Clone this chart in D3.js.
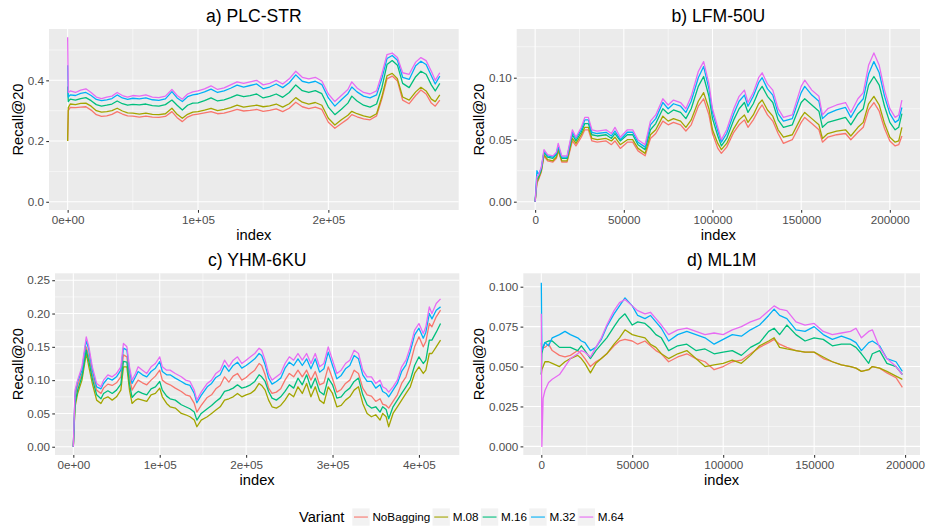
<!DOCTYPE html>
<html><head><meta charset="utf-8">
<script src="https://cdn.jsdelivr.net/npm/d3@7"></script>
<style>body{margin:0;background:#fff}svg{display:block}text{font-family:"Liberation Sans",Arial,Helvetica,sans-serif}</style>
</head><body>
<script>
// ---------------- DATA ----------------
const variants = ["NoBagging","M.08","M.16","M.32","M.64"];
const colors = ["#F8766D","#A3A500","#00BF7D","#00B0F6","#E76BF3"];
const panelTitles = ["a) PLC-STR","b) LFM-50U","c) YHM-6KU","d) ML1M"];

// a) PLC-STR
const idxA = [0,500,2000,6000,10000,14000,18000,22000,26000,30000,34000,38000,42000,46000,50000,55000,60000,65000,70000,75000,80000,84000,88000,92000,96000,100000,105000,110000,115000,120000,125000,130000,135000,140000,145000,150000,155000,160000,165000,170000,175000,180000,185000,190000,195000,200000,205000,210000,215000,218000,222000,227000,232000,237000,241000,245000,249000,253000,257000,262000,267000,271000,275000,279000,282000,285500];
const a_NoBagging = [0.2,0.3,0.311,0.31,0.312,0.313,0.302,0.287,0.281,0.283,0.288,0.297,0.289,0.283,0.282,0.279,0.282,0.279,0.278,0.281,0.297,0.277,0.264,0.279,0.286,0.289,0.293,0.297,0.29,0.292,0.298,0.304,0.299,0.301,0.304,0.298,0.301,0.306,0.297,0.308,0.328,0.313,0.307,0.312,0.304,0.262,0.242,0.258,0.273,0.287,0.28,0.273,0.27,0.283,0.338,0.405,0.414,0.398,0.335,0.323,0.35,0.368,0.355,0.325,0.315,0.335];
const a_M08 = [0.2,0.31,0.322,0.32,0.324,0.325,0.315,0.3,0.295,0.297,0.3,0.308,0.299,0.293,0.292,0.289,0.292,0.288,0.287,0.29,0.308,0.288,0.275,0.288,0.295,0.297,0.302,0.308,0.3,0.304,0.31,0.318,0.312,0.315,0.318,0.313,0.316,0.322,0.312,0.323,0.343,0.328,0.322,0.327,0.318,0.275,0.253,0.27,0.285,0.298,0.29,0.283,0.278,0.29,0.345,0.415,0.423,0.405,0.345,0.335,0.362,0.377,0.365,0.338,0.33,0.352];
const a_M16 = [0.38,0.33,0.338,0.335,0.34,0.343,0.333,0.32,0.315,0.318,0.322,0.332,0.323,0.318,0.321,0.319,0.322,0.317,0.315,0.32,0.335,0.318,0.302,0.318,0.325,0.326,0.333,0.342,0.332,0.336,0.343,0.352,0.346,0.35,0.355,0.342,0.347,0.355,0.344,0.36,0.385,0.366,0.36,0.366,0.356,0.312,0.287,0.305,0.325,0.348,0.332,0.318,0.312,0.322,0.375,0.452,0.465,0.45,0.39,0.376,0.412,0.43,0.42,0.385,0.365,0.39];
const a_M32 = [0.45,0.345,0.352,0.35,0.357,0.36,0.35,0.337,0.333,0.336,0.34,0.352,0.342,0.337,0.341,0.339,0.342,0.336,0.334,0.339,0.363,0.342,0.33,0.346,0.352,0.355,0.362,0.371,0.36,0.365,0.374,0.384,0.378,0.383,0.388,0.372,0.378,0.388,0.376,0.392,0.418,0.397,0.392,0.397,0.386,0.342,0.315,0.336,0.356,0.378,0.362,0.348,0.342,0.352,0.405,0.472,0.482,0.466,0.41,0.403,0.448,0.463,0.452,0.415,0.388,0.414];
const a_M64 = [0.542,0.36,0.365,0.36,0.368,0.372,0.36,0.345,0.34,0.345,0.348,0.36,0.35,0.345,0.35,0.348,0.352,0.345,0.343,0.348,0.37,0.35,0.338,0.355,0.362,0.365,0.372,0.382,0.37,0.375,0.385,0.395,0.39,0.395,0.4,0.385,0.39,0.4,0.388,0.405,0.43,0.41,0.405,0.41,0.398,0.355,0.33,0.35,0.37,0.395,0.375,0.36,0.355,0.365,0.42,0.485,0.49,0.475,0.425,0.42,0.46,0.475,0.465,0.43,0.4,0.425];

// b) LFM-50U
const idxB = [0,1000,2000,3500,5000,7000,10000,12000,13000,15000,18000,21000,23000,26000,28000,30000,32000,35000,40000,43000,45000,48000,52000,55000,58000,62000,65000,68000,72000,75000,78000,82000,85000,88000,92000,95000,98000,100000,103000,105000,108000,112000,115000,118000,120000,123000,126000,128000,131000,134000,137000,140000,145000,150000,152000,156000,160000,162000,165000,170000,175000,178000,182000,185000,188000,191000,194000,197000,200000,203000,205000,206800];
const b_NoBagging = [0,0.015,0.018,0.024,0.037,0.033,0.032,0.035,0.041,0.032,0.032,0.049,0.045,0.052,0.058,0.058,0.049,0.048,0.049,0.046,0.049,0.043,0.048,0.048,0.041,0.037,0.051,0.055,0.065,0.062,0.064,0.062,0.057,0.062,0.077,0.083,0.07,0.055,0.043,0.039,0.044,0.056,0.062,0.066,0.06,0.066,0.074,0.078,0.07,0.065,0.055,0.047,0.05,0.064,0.068,0.063,0.058,0.048,0.052,0.054,0.055,0.05,0.056,0.06,0.074,0.08,0.073,0.059,0.049,0.045,0.046,0.053];
const b_M08 = [0,0.016,0.019,0.025,0.038,0.034,0.033,0.036,0.042,0.033,0.033,0.051,0.047,0.054,0.06,0.06,0.051,0.05,0.051,0.049,0.052,0.046,0.05,0.05,0.043,0.039,0.054,0.058,0.069,0.065,0.067,0.065,0.06,0.066,0.081,0.088,0.075,0.058,0.047,0.042,0.047,0.059,0.066,0.07,0.064,0.07,0.079,0.082,0.074,0.069,0.058,0.052,0.054,0.068,0.072,0.067,0.062,0.051,0.055,0.057,0.058,0.053,0.06,0.064,0.079,0.085,0.078,0.063,0.052,0.048,0.049,0.06];
const b_M16 = [0,0.018,0.02,0.026,0.04,0.036,0.035,0.038,0.044,0.035,0.035,0.054,0.049,0.056,0.063,0.063,0.054,0.053,0.054,0.051,0.055,0.049,0.054,0.054,0.046,0.042,0.058,0.063,0.075,0.071,0.074,0.072,0.067,0.075,0.093,0.101,0.085,0.067,0.053,0.045,0.051,0.066,0.075,0.08,0.072,0.079,0.089,0.093,0.085,0.08,0.066,0.06,0.062,0.08,0.083,0.078,0.073,0.06,0.064,0.066,0.068,0.062,0.071,0.075,0.094,0.101,0.094,0.077,0.064,0.058,0.06,0.071];
const b_M32 = [0,0.025,0.022,0.027,0.041,0.037,0.036,0.039,0.045,0.036,0.036,0.056,0.051,0.058,0.066,0.066,0.056,0.055,0.056,0.053,0.057,0.05,0.056,0.056,0.048,0.044,0.062,0.067,0.08,0.075,0.079,0.077,0.072,0.081,0.1,0.109,0.091,0.072,0.057,0.048,0.055,0.071,0.081,0.086,0.077,0.085,0.096,0.1,0.091,0.086,0.071,0.065,0.067,0.088,0.093,0.086,0.081,0.067,0.071,0.074,0.076,0.068,0.078,0.083,0.103,0.113,0.104,0.085,0.071,0.064,0.066,0.076];
const b_M64 = [0,0.02,0.022,0.028,0.042,0.038,0.037,0.04,0.047,0.037,0.037,0.058,0.052,0.06,0.068,0.068,0.058,0.057,0.058,0.055,0.06,0.052,0.058,0.058,0.05,0.046,0.065,0.07,0.083,0.078,0.082,0.08,0.075,0.085,0.105,0.113,0.095,0.075,0.06,0.05,0.058,0.075,0.085,0.09,0.08,0.088,0.1,0.104,0.095,0.09,0.075,0.068,0.07,0.093,0.098,0.09,0.085,0.07,0.075,0.078,0.08,0.072,0.083,0.088,0.11,0.12,0.11,0.09,0.075,0.068,0.07,0.082];

// c) YHM-6KU
const idxC = [0,2000,5000,10000,15000,18000,22000,27000,32000,35000,40000,45000,50000,55000,58000,62000,65000,68000,72000,75000,80000,85000,90000,95000,100000,103000,108000,112000,118000,125000,130000,135000,140000,143000,148000,155000,160000,165000,170000,175000,180000,185000,190000,195000,200000,205000,210000,215000,218000,222000,226000,230000,235000,240000,245000,250000,255000,260000,265000,270000,275000,280000,285000,290000,295000,300000,305000,310000,315000,320000,325000,330000,335000,340000,345000,350000,355000,358000,362000,365000,370000,375000,380000,385000,390000,395000,400000,405000,408000,412000,415000,420000,425000];
const c_NoBagging = [0,0.075,0.092,0.11,0.15,0.135,0.108,0.085,0.08,0.088,0.094,0.092,0.096,0.105,0.138,0.135,0.105,0.085,0.094,0.1,0.096,0.093,0.1,0.106,0.115,0.1,0.095,0.093,0.088,0.083,0.078,0.076,0.065,0.052,0.062,0.074,0.078,0.087,0.092,0.105,0.097,0.106,0.11,0.1,0.104,0.11,0.115,0.125,0.122,0.108,0.088,0.08,0.082,0.087,0.1,0.11,0.105,0.115,0.105,0.115,0.1,0.113,0.093,0.096,0.12,0.102,0.082,0.086,0.095,0.1,0.115,0.11,0.088,0.078,0.076,0.068,0.072,0.064,0.062,0.058,0.068,0.078,0.095,0.105,0.125,0.15,0.165,0.15,0.158,0.185,0.18,0.195,0.205];
const c_M08 = [0,0.06,0.08,0.1,0.14,0.12,0.095,0.07,0.065,0.072,0.075,0.07,0.075,0.085,0.12,0.12,0.085,0.065,0.07,0.072,0.07,0.068,0.078,0.08,0.088,0.075,0.065,0.06,0.058,0.05,0.048,0.045,0.04,0.03,0.04,0.045,0.05,0.055,0.06,0.07,0.072,0.075,0.08,0.075,0.078,0.08,0.085,0.095,0.092,0.085,0.07,0.06,0.058,0.062,0.07,0.08,0.075,0.09,0.08,0.095,0.075,0.09,0.07,0.065,0.09,0.08,0.06,0.062,0.07,0.075,0.085,0.09,0.065,0.05,0.045,0.048,0.04,0.05,0.045,0.03,0.05,0.06,0.07,0.08,0.09,0.11,0.12,0.11,0.115,0.14,0.14,0.15,0.16];
const c_M16 = [0,0.065,0.085,0.105,0.145,0.128,0.102,0.078,0.072,0.08,0.084,0.08,0.085,0.094,0.128,0.127,0.094,0.074,0.08,0.083,0.08,0.078,0.087,0.09,0.098,0.085,0.076,0.072,0.07,0.063,0.06,0.057,0.052,0.04,0.05,0.057,0.062,0.068,0.073,0.083,0.085,0.088,0.093,0.088,0.09,0.093,0.098,0.108,0.105,0.098,0.083,0.073,0.07,0.075,0.083,0.093,0.088,0.103,0.093,0.108,0.088,0.103,0.083,0.078,0.103,0.093,0.073,0.075,0.083,0.088,0.098,0.103,0.078,0.063,0.058,0.06,0.052,0.06,0.056,0.042,0.06,0.07,0.08,0.09,0.1,0.122,0.135,0.125,0.13,0.16,0.16,0.172,0.185];
const c_M32 = [0,0.08,0.098,0.115,0.16,0.145,0.115,0.09,0.087,0.095,0.103,0.1,0.105,0.115,0.148,0.145,0.115,0.095,0.105,0.113,0.108,0.105,0.113,0.118,0.128,0.113,0.108,0.108,0.103,0.098,0.094,0.092,0.08,0.066,0.077,0.09,0.095,0.104,0.108,0.122,0.113,0.122,0.127,0.118,0.122,0.127,0.132,0.14,0.137,0.123,0.103,0.094,0.098,0.103,0.118,0.127,0.122,0.132,0.122,0.132,0.117,0.132,0.112,0.117,0.142,0.122,0.102,0.107,0.117,0.122,0.137,0.132,0.108,0.098,0.098,0.088,0.093,0.083,0.08,0.075,0.085,0.095,0.113,0.123,0.143,0.168,0.178,0.163,0.172,0.2,0.192,0.205,0.21];
const c_M64 = [0,0.085,0.1,0.12,0.165,0.15,0.12,0.095,0.09,0.1,0.108,0.105,0.11,0.12,0.155,0.15,0.12,0.1,0.11,0.12,0.115,0.11,0.12,0.125,0.135,0.12,0.115,0.115,0.11,0.105,0.1,0.098,0.085,0.07,0.082,0.095,0.1,0.11,0.115,0.13,0.12,0.13,0.135,0.125,0.13,0.135,0.14,0.148,0.145,0.13,0.11,0.1,0.105,0.11,0.125,0.135,0.13,0.14,0.13,0.14,0.125,0.14,0.12,0.125,0.15,0.13,0.11,0.115,0.125,0.13,0.145,0.14,0.115,0.105,0.105,0.095,0.1,0.09,0.087,0.082,0.09,0.1,0.12,0.13,0.15,0.175,0.185,0.17,0.18,0.21,0.2,0.215,0.222];

// d) ML1M
const idxD = [0,300,1000,2000,4000,6000,10000,13000,16000,20000,22000,24000,27000,30000,33000,36000,40000,43000,46000,50000,53000,57000,60000,63000,66000,70000,75000,80000,85000,90000,95000,100000,105000,110000,115000,120000,125000,128000,131000,135000,140000,145000,150000,155000,160000,165000,170000,173000,176000,180000,182000,186000,190000,195000,198500];
const d_NoBagging = [0.065,0.06,0.062,0.062,0.064,0.06,0.057,0.056,0.057,0.06,0.058,0.055,0.05,0.053,0.055,0.058,0.063,0.066,0.067,0.066,0.064,0.066,0.063,0.06,0.058,0.053,0.056,0.058,0.055,0.053,0.048,0.05,0.053,0.054,0.058,0.062,0.065,0.067,0.064,0.062,0.06,0.059,0.059,0.055,0.053,0.051,0.05,0.049,0.047,0.048,0.05,0.049,0.046,0.043,0.037];
const d_M08 = [0.045,0.048,0.05,0.053,0.053,0.052,0.05,0.053,0.055,0.057,0.055,0.052,0.046,0.052,0.055,0.058,0.064,0.068,0.073,0.07,0.069,0.068,0.064,0.062,0.058,0.055,0.058,0.06,0.055,0.05,0.051,0.052,0.054,0.052,0.057,0.063,0.066,0.068,0.062,0.061,0.06,0.059,0.059,0.056,0.053,0.051,0.05,0.049,0.047,0.048,0.05,0.049,0.047,0.044,0.042];
const d_M16 = [0.045,0.058,0.062,0.065,0.066,0.066,0.062,0.062,0.062,0.06,0.063,0.06,0.055,0.06,0.064,0.068,0.075,0.08,0.083,0.076,0.078,0.077,0.074,0.07,0.068,0.06,0.063,0.064,0.06,0.061,0.058,0.059,0.06,0.057,0.062,0.065,0.072,0.074,0.07,0.076,0.07,0.066,0.068,0.067,0.063,0.064,0.064,0.062,0.058,0.052,0.058,0.06,0.052,0.05,0.045];
const d_M32 = [0.1025,0.06,0.062,0.065,0.063,0.068,0.07,0.072,0.07,0.068,0.066,0.065,0.06,0.062,0.067,0.075,0.083,0.088,0.093,0.088,0.082,0.08,0.082,0.078,0.074,0.066,0.07,0.072,0.07,0.068,0.064,0.067,0.07,0.069,0.073,0.076,0.082,0.086,0.082,0.08,0.073,0.072,0.075,0.07,0.067,0.069,0.067,0.065,0.06,0.065,0.066,0.063,0.055,0.053,0.047];
const d_M64 = [0.083,0,0.03,0.035,0.04,0.042,0.045,0.05,0.055,0.058,0.06,0.059,0.056,0.062,0.068,0.076,0.085,0.09,0.092,0.088,0.085,0.083,0.084,0.08,0.076,0.07,0.073,0.074,0.072,0.07,0.071,0.07,0.073,0.075,0.078,0.08,0.085,0.088,0.086,0.085,0.078,0.076,0.077,0.072,0.07,0.071,0.072,0.074,0.068,0.072,0.073,0.062,0.055,0.05,0.045];

// ticks
const xTicksA = [0,100000,200000], xLabelsA = ["0e+00","1e+05","2e+05"], xMinorA = [50000,150000,250000];
const yTicksA = [0,0.2,0.4], yLabelsA = ["0.0","0.2","0.4"], yMinorA = [0.1,0.3,0.5];
const xTicksB = [0,50000,100000,150000,200000], xLabelsB = ["0","50000","100000","150000","200000"], xMinorB = [25000,75000,125000,175000];
const yTicksB = [0,0.05,0.1], yLabelsB = ["0.00","0.05","0.10"], yMinorB = [0.025,0.075,0.125];
const xTicksC = [0,100000,200000,300000,400000], xLabelsC = ["0e+00","1e+05","2e+05","3e+05","4e+05"], xMinorC = [50000,150000,250000,350000];
const yTicksC = [0,0.05,0.1,0.15,0.2,0.25], yLabelsC = ["0.00","0.05","0.10","0.15","0.20","0.25"], yMinorC = [0.025,0.075,0.125,0.175,0.225];
const xTicksD = [0,50000,100000,150000,200000], xLabelsD = ["0","50000","100000","150000","200000"], xMinorD = [25000,75000,125000,175000];
const yTicksD = [0,0.025,0.05,0.075,0.1], yLabelsD = ["0.000","0.025","0.050","0.075","0.100"], yMinorD = [0.0125,0.0375,0.0625,0.0875];

// ---------------- LAYOUT ----------------
const W = 927, H = 527;
const panels = [
  {title:panelTitles[0], idx:idxA, series:[a_NoBagging,a_M08,a_M16,a_M32,a_M64], x0:49, x1:458.7, y0:29, y1:210, xDom:[-14300,300000], yDom:[-0.0271,0.5691], xt:xTicksA, xl:xLabelsA, xm:xMinorA, yt:yTicksA, yl:yLabelsA, ym:yMinorA, ylabX:23},
  {title:panelTitles[1], idx:idxB, series:[b_NoBagging,b_M08,b_M16,b_M32,b_M64], x0:516.7, x1:920, y0:29, y1:210, xDom:[-10400,217000], yDom:[-0.0067,0.1393], xt:xTicksB, xl:xLabelsB, xm:xMinorB, yt:yTicksB, yl:yLabelsB, ym:yMinorB, ylabX:484},
  {title:panelTitles[2], idx:idxC, series:[c_NoBagging,c_M08,c_M16,c_M32,c_M64], x0:55, x1:459.3, y0:273.3, y1:455, xDom:[-21200,446700], yDom:[-0.0124,0.2604], xt:xTicksC, xl:xLabelsC, xm:xMinorC, yt:yTicksC, yl:yLabelsC, ym:yMinorC, ylabX:23},
  {title:panelTitles[3], idx:idxD, series:[d_NoBagging,d_M08,d_M16,d_M32,d_M64], x0:523.3, x1:920, y0:273.3, y1:455, xDom:[-9900,208200], yDom:[-0.0054,0.1084], xt:xTicksD, xl:xLabelsD, xm:xMinorD, yt:yTicksD, yl:yLabelsD, ym:yMinorD, ylabX:484}
];

const svg = d3.select("body").append("svg").attr("width",W).attr("height",H);
svg.append("rect").attr("width",W).attr("height",H).attr("fill","#fff");

panels.forEach((p,pi) => {
  const x = d3.scaleLinear().domain(p.xDom).range([p.x0,p.x1]);
  const y = d3.scaleLinear().domain(p.yDom).range([p.y1,p.y0]);
  const g = svg.append("g");
  g.append("rect").attr("x",p.x0).attr("y",p.y0).attr("width",p.x1-p.x0).attr("height",p.y1-p.y0).attr("fill","#EBEBEB");
  // minor grid
  p.xm.filter(v=>v>=p.xDom[0]&&v<=p.xDom[1]).forEach(v=>g.append("line").attr("x1",x(v)).attr("x2",x(v)).attr("y1",p.y0).attr("y2",p.y1).attr("stroke","#fff").attr("stroke-width",0.53));
  p.ym.filter(v=>v>=p.yDom[0]&&v<=p.yDom[1]).forEach(v=>g.append("line").attr("y1",y(v)).attr("y2",y(v)).attr("x1",p.x0).attr("x2",p.x1).attr("stroke","#fff").attr("stroke-width",0.53));
  // major grid
  p.xt.forEach(v=>g.append("line").attr("x1",x(v)).attr("x2",x(v)).attr("y1",p.y0).attr("y2",p.y1).attr("stroke","#fff").attr("stroke-width",1.07));
  p.yt.forEach(v=>g.append("line").attr("y1",y(v)).attr("y2",y(v)).attr("x1",p.x0).attr("x2",p.x1).attr("stroke","#fff").attr("stroke-width",1.07));
  // clip
  const cid = "clip"+pi;
  svg.append("clipPath").attr("id",cid).append("rect").attr("x",p.x0).attr("y",p.y0).attr("width",p.x1-p.x0).attr("height",p.y1-p.y0);
  const lg = g.append("g").attr("clip-path",`url(#${cid})`);
  const line = d3.line().x((d,i)=>x(p.idx[i])).y(d=>y(d));
  p.series.forEach((s,si)=>{
    lg.append("path").datum(s).attr("d",line).attr("fill","none").attr("stroke",colors[si]).attr("stroke-width",1.3).attr("stroke-linejoin","round");
  });
  // x axis
  const xAxis = d3.axisBottom(x).tickValues(p.xt).tickFormat((d,i)=>p.xl[i]).tickSize(2.75).tickPadding(2.5);
  const xa = g.append("g").attr("transform",`translate(0,${p.y1})`).call(xAxis);
  xa.select(".domain").remove();
  xa.selectAll("line").attr("stroke","#333333").attr("stroke-width",1.07);
  xa.selectAll("text").attr("fill","#4D4D4D").attr("font-size","11.7px").attr("font-family",'"Liberation Sans",Arial,sans-serif');
  // y axis
  const yAxis = d3.axisLeft(y).tickValues(p.yt).tickFormat((d,i)=>p.yl[i]).tickSize(2.75).tickPadding(2.2);
  const ya = g.append("g").attr("transform",`translate(${p.x0},0)`).call(yAxis);
  ya.select(".domain").remove();
  ya.selectAll("line").attr("stroke","#333333").attr("stroke-width",1.07);
  ya.selectAll("text").attr("fill","#4D4D4D").attr("font-size","11.7px").attr("font-family",'"Liberation Sans",Arial,sans-serif');
  // titles
  g.append("text").attr("x",(p.x0+p.x1)/2).attr("y",p.y0-7.2).attr("text-anchor","middle").attr("font-size","17.6px").attr("fill","#000").text(p.title);
  g.append("text").attr("x",(p.x0+p.x1)/2).attr("y",p.y1+29.6).attr("text-anchor","middle").attr("font-size","14.7px").attr("fill","#000").text("index");
  g.append("text").attr("transform",`translate(${p.ylabX},${(p.y0+p.y1)/2}) rotate(-90)`).attr("text-anchor","middle").attr("font-size","14.7px").attr("fill","#000").text("Recall@20");
});

// legend
const leg = svg.append("g");
leg.append("text").attr("x",299).attr("y",522).attr("font-size","14.7px").attr("fill","#000").text("Variant");
let lx = 352.3;
const ky = 508.4, ks = 17.3;
variants.forEach((v,i)=>{
  leg.append("rect").attr("x",lx).attr("y",ky).attr("width",ks).attr("height",ks).attr("fill","#F2F2F2");
  leg.append("line").attr("x1",lx+1.7).attr("x2",lx+ks-1.7).attr("y1",ky+ks/2).attr("y2",ky+ks/2).attr("stroke",colors[i]).attr("stroke-width",1.1);
  const t = leg.append("text").attr("x",lx+ks+2.8).attr("y",ky+ks/2+4.1).attr("font-size","11.7px").attr("fill","#000").text(v);
  lx = lx+ks+2.8+t.node().getComputedTextLength()+2.3;
});
</script>
</body></html>
